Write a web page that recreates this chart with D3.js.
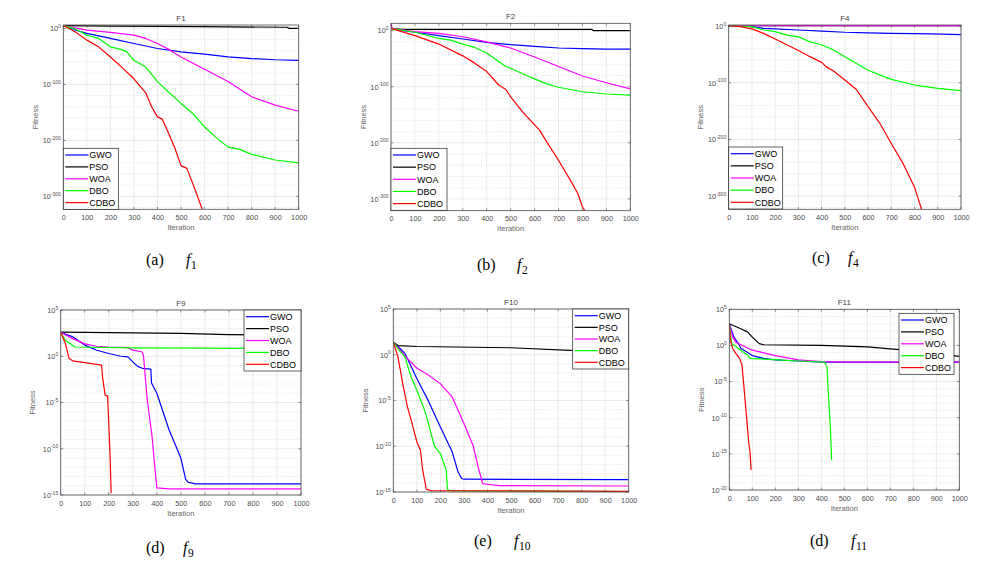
<!DOCTYPE html>
<html><head><meta charset="utf-8">
<script src="https://cdn.jsdelivr.net/npm/d3@7"></script>
<style>body{margin:0;background:#fff}svg{display:block}</style>
</head><body>
<svg id="c" width="986" height="575"></svg>
<script>
// ---------------- data ----------------
const seriesNames = ["GWO", "PSO", "WOA", "DBO", "CDBO"];
const seriesColors = ["#0000ff", "#000000", "#ff00ff", "#00ff00", "#ff0000"];
const xTicks = [0, 100, 200, 300, 400, 500, 600, 700, 800, 900, 1000];
const panelTitles = ["F1", "F2", "F4", "F9", "F10", "F11"];
const captionLetters = ["(a)", "(b)", "(c)", "(d)", "(e)", "(d)"];
const captionSubs = ["1", "2", "4", "9", "10", "11"];
const yTickExpsBig = [0, -100, -200, -300];
const yTickExpsF9 = [5, 0, -5, -10, -15];
const yTickExpsF11 = [5, 0, -5, -10, -15, -20];

// F1 : [iteration, fitness]
const f1GWO = [[0,1e5],[50,1e-3],[100,1e-9],[200,1e-18],[300,1e-27],[400,1e-36],[500,1e-42],[600,1e-46],[700,1e-51],[800,1e-54],[900,1e-56],[1000,1e-57]];
const f1PSO = [[0,1e5],[200,1e4],[600,1e3],[950,1e2],[960,1e0],[1000,1e0]];
const f1WOA = [[0,1e5],[100,1e-3],[200,1e-7],[300,1e-12],[350,1e-18],[400,1e-27],[450,1e-38],[500,1e-51],[600,1e-73],[700,1e-95],[800,1e-122],[900,1e-137],[1000,1e-148]];
const f1DBO = [[0,1e5],[50,1e-1],[100,1e-12],[150,1e-18],[200,1e-33],[250,1e-38],[270,1e-42],[300,1e-57],[350,1e-69],[400,1e-95],[450,1e-115],[500,1e-134],[550,1e-152],[600,1e-176],[650,1e-195],[700,1e-212],[750,1e-216],[800,1e-225],[900,1e-235],[1000,1e-240]];
const f1CDBO = [[0,1e5],[50,1e-6],[100,1e-21],[150,1e-33],[200,1e-51],[250,1e-70],[300,1e-90],[350,1e-115],[375,1e-140],[400,1e-158],[420,1e-162],[450,1e-190],[475,1e-215],[500,1e-245],[525,1e-250],[560,1e-288],[590,1e-323]];

// F2
const f2GWO = [[0,1e4],[50,1e0],[100,1e-3],[200,1e-9],[300,1e-15],[400,1e-21],[500,1e-25],[600,1e-28],[700,1e-31],[800,1e-32],[900,1e-33],[1000,1e-33]];
const f2PSO = [[0,1e4],[50,1e2],[840,1e2],[845,1e0],[1000,1e0]];
const f2WOA = [[0,1e13],[5,1e4],[50,1e1],[100,1e-2],[200,1e-5],[300,1e-11],[400,1e-20],[500,1e-31],[600,1e-47],[700,1e-64],[800,1e-81],[900,1e-93],[1000,1e-104]];
const f2DBO = [[0,1e4],[100,1e-3],[200,1e-14],[250,1e-17],[300,1e-24],[350,1e-30],[400,1e-40],[450,1e-55],[480,1e-64],[500,1e-67],[550,1e-77],[600,1e-86],[650,1e-95],[700,1e-101],[800,1e-109],[900,1e-113],[1000,1e-115]];
const f2CDBO = [[0,1e4],[100,1e-9],[200,1e-24],[300,1e-45],[350,1e-58],[400,1e-73],[450,1e-97],[480,1e-105],[500,1e-118],[550,1e-145],[600,1e-168],[620,1e-177],[650,1e-198],[700,1e-231],[750,1e-267],[780,1e-290],[800,1e-314],[810,1e-321]];

// F4
const f4GWO = [[0,3],[100,1e-1],[150,1e-4],[200,1e-5],[300,1e-7],[400,1e-9],[500,1e-11],[600,1e-12],[700,1e-13],[800,3e-14],[870,1e-14],[1000,1e-15]];
const f4PSO = [[0,5],[1000,5]];
const f4WOA = [[0,6],[1000,6]];
const f4DBO = [[0,3],[100,1e-1],[150,1e-7],[200,1e-10],[250,1e-16],[300,1e-19],[350,1e-28],[400,1e-33],[450,1e-42],[500,1e-54],[550,1e-66],[600,1e-78],[650,1e-86],[700,1e-94],[800,1e-104],[900,1e-110],[1000,1e-114]];
const f4CDBO = [[0,3],[50,1e-1],[100,1e-5],[150,1e-13],[200,1e-23],[250,1e-33],[300,1e-43],[350,1e-54],[400,1e-64],[420,1e-72],[450,1e-79],[500,1e-95],[550,1e-112],[600,1e-142],[650,1e-171],[700,1e-207],[750,1e-242],[800,1e-284],[830,1e-323]];

// F9
const f9GWO = [[0,4e2],[20,2.5e2],[50,1.3e2],[100,1.6e1],[150,4.5],[200,2],[250,1],[280,0.85],[300,0.25],[320,0.08],[340,0.05],[375,0.04],[378,1.3e-3],[400,1e-4],[450,1.3e-8],[500,1e-11],[520,5e-14],[530,2.5e-14],[560,1.6e-14],[1000,1.6e-14]];
const f9PSO = [[0,4e2],[500,3e2],[700,2.2e2],[1000,1.7e2]];
const f9WOA = [[0,4e2],[50,8e1],[100,2.2e1],[150,1.2e1],[200,1e1],[280,8.5],[300,4.5],[340,2.9],[345,0.85],[360,2e-5],[380,2.5e-9],[390,3e-12],[400,6e-15],[450,4.5e-15],[1000,4.5e-15]];
const f9DBO = [[0,4e2],[20,5e1],[60,1e1],[300,8],[1000,6.6]];
const f9CDBO = [[0,4e2],[20,2.2e1],[35,0.56],[50,0.32],[100,0.2],[170,0.11],[175,4e-3],[185,6e-5],[195,5e-5],[200,6e-8],[205,4e-11],[210,1.6e-15]];

// F10
const f10GWO = [[0,2.4e1],[30,4.5],[50,1.3],[100,2.5e-3],[150,8e-6],[200,1.3e-8],[250,2.5e-11],[275,1.6e-13],[290,3e-14],[300,2.5e-14],[1000,2.2e-14]];
const f10PSO = [[0,2.4e1],[20,1e1],[100,8],[500,5.8],[750,3],[1000,1.8]];
const f10WOA = [[0,2.4e1],[30,3],[50,0.7],[100,3.5e-2],[150,5.6e-3],[200,7e-4],[250,2.5e-5],[300,3e-8],[340,1e-10],[360,6e-13],[380,8e-15],[450,5e-15],[1000,4.5e-15]];
const f10DBO = [[0,2.4e1],[20,4.5],[50,0.56],[75,4e-3],[100,1.3e-4],[125,3e-6],[140,2.5e-7],[160,2.5e-9],[175,1e-10],[200,1.6e-11],[210,3e-12],[225,2.5e-13],[230,2e-15],[240,1.4e-15],[1000,1.1e-15]];
const f10CDBO = [[0,2.4e1],[20,0.56],[40,7e-4],[60,2e-6],[80,3e-8],[100,3e-10],[115,4e-11],[125,2.5e-13],[140,2e-15],[160,1.4e-15],[1000,1.2e-15]];

// F11
const f11GWO = [[0,1e3],[20,1.4e1],[40,1.8],[50,0.4],[100,4e-2],[150,1.6e-2],[200,1e-2],[300,7e-3],[400,5e-3],[1000,5e-3]];
const f11PSO = [[0,1e3],[50,2e2],[80,7e1],[100,1.4e1],[130,1.8],[150,1.25],[400,1],[600,0.63],[750,0.25],[1000,3e-2]];
const f11WOA = [[0,1e3],[15,1.4e1],[30,2.5],[100,0.22],[200,4e-2],[300,1e-2],[400,6e-3],[500,5e-3],[1000,5e-3]];
const f11DBO = [[0,1e3],[10,1.8],[50,0.22],[80,4.5e-2],[90,1.6e-2],[150,1.3e-2],[300,7e-3],[415,5e-3],[425,1e-3],[430,6e-7],[440,1.8e-12],[445,1.3e-16]];
const f11CDBO = [[0,1e3],[5,5],[15,0.35],[30,7e-2],[45,1.6e-2],[55,2e-3],[65,6e-7],[75,1.3e-10],[85,2.5e-14],[90,2e-15],[95,6e-18]];

// ---------------- layout ----------------
const panels = [
  {series:[f1GWO,f1PSO,f1WOA,f1DBO,f1CDBO], l:63.3, r:298.7, t:25, b:209.3, ymin:1e-323, ymax:1e6, ticks:yTickExpsBig, minorStep:20,
   leg:{x:63.3,y:148.3,w:55,h:61}, cap:{x:146,y:265,fx:186}},
  {series:[f2GWO,f2PSO,f2WOA,f2DBO,f2CDBO], l:391, r:630.3, t:23.3, b:210.7, ymin:1e-321, ymax:1e13, ticks:yTickExpsBig, minorStep:20,
   leg:{x:391,y:148.3,w:56,h:62}, cap:{x:477,y:270,fx:517}},
  {series:[f4GWO,f4PSO,f4WOA,f4DBO,f4CDBO], l:728.7, r:961, t:25, b:209.3, ymin:1e-323, ymax:63, ticks:yTickExpsBig, minorStep:20,
   leg:{x:728.7,y:147,w:54,h:62}, cap:{x:812,y:263,fx:848}},
  {series:[f9GWO,f9PSO,f9WOA,f9DBO,f9CDBO], l:60.7, r:301, t:310, b:495, ymin:1e-15, ymax:1e5, ticks:yTickExpsF9, minorStep:1,
   leg:{x:244,y:310,w:57,h:61}, cap:{x:146,y:553,fx:183}},
  {series:[f10GWO,f10PSO,f10WOA,f10DBO,f10CDBO], l:393.3, r:628.7, t:309, b:492, ymin:1e-15, ymax:1e5, ticks:yTickExpsF9, minorStep:1,
   leg:{x:572.7,y:309,w:56,h:60}, cap:{x:474,y:546,fx:514}},
  {series:[f11GWO,f11PSO,f11WOA,f11DBO,f11CDBO], l:729.3, r:959.3, t:309.3, b:490, ymin:1e-20, ymax:1e5, ticks:yTickExpsF11, minorStep:1,
   leg:{x:899,y:313.3,w:55,h:61}, cap:{x:810,y:546,fx:851}}
];

const svg = d3.select("#c");
const FONT = "Liberation Sans, Arial, sans-serif";
const AX = "#4d4d4d";

panels.forEach((p, i) => {
  const g = svg.append("g");
  const x = d3.scaleLinear().domain([0, 1000]).range([p.l, p.r]);
  const y = d3.scaleLog().domain([p.ymin, p.ymax]).range([p.b, p.t]);
  const e0 = Math.ceil(Math.log10(p.ymin)), e1 = Math.floor(Math.log10(p.ymax));
  const major = new Set(p.ticks);

  g.append("rect").attr("x", p.l).attr("y", p.t).attr("width", p.r - p.l).attr("height", p.b - p.t).attr("fill", "#fff");

  const minors = [];
  for (let e = e1; e >= e0; e--) if (e % p.minorStep === 0 && !major.has(e)) minors.push(e);
  g.selectAll(".mg").data(minors).enter().append("line")
    .attr("x1", p.l).attr("x2", p.r)
    .attr("y1", d => y(Math.pow(10, d))).attr("y2", d => y(Math.pow(10, d)))
    .attr("stroke", "#d4d4d4").attr("stroke-width", 0.6).attr("stroke-dasharray", "1,1.5");
  g.selectAll(".hg").data(p.ticks).enter().append("line")
    .attr("x1", p.l).attr("x2", p.r)
    .attr("y1", d => y(Math.pow(10, d))).attr("y2", d => y(Math.pow(10, d)))
    .attr("stroke", "#e3e3e3").attr("stroke-width", 0.7);
  g.selectAll(".vg").data(xTicks).enter().append("line")
    .attr("x1", d => x(d)).attr("x2", d => x(d))
    .attr("y1", p.t).attr("y2", p.b)
    .attr("stroke", "#e3e3e3").attr("stroke-width", 0.7);

  const cid = "clip" + i;
  svg.append("clipPath").attr("id", cid).append("rect")
    .attr("x", p.l).attr("y", p.t).attr("width", p.r - p.l).attr("height", p.b - p.t);

  const line = d3.line().x(d => x(d[0])).y(d => y(Math.max(d[1], p.ymin)));
  const lg = g.append("g").attr("clip-path", `url(#${cid})`);
  p.series.forEach((s, k) => {
    lg.append("path").attr("d", line(s)).attr("fill", "none")
      .attr("stroke", seriesColors[k]).attr("stroke-width", 1.2).attr("stroke-linejoin", "round");
  });

  g.append("rect").attr("x", p.l).attr("y", p.t).attr("width", p.r - p.l).attr("height", p.b - p.t)
    .attr("fill", "none").attr("stroke", AX).attr("stroke-width", 0.8);

  const xa = d3.axisBottom(x).tickValues(xTicks).tickSize(0).tickPadding(0).tickFormat(d3.format("d"));
  const xg = g.append("g").attr("transform", `translate(0,${p.b})`).call(xa);
  xg.select(".domain").remove();
  xg.selectAll("text").attr("dy", null).attr("y", 10.5).attr("font-family", FONT).attr("font-size", 7.3).attr("fill", AX);
  g.selectAll(".xt").data(xTicks).enter().append("line")
    .attr("x1", d => x(d)).attr("x2", d => x(d)).attr("y1", p.b).attr("y2", p.b - 2.5)
    .attr("stroke", AX).attr("stroke-width", 0.6);
  g.selectAll(".xtt").data(xTicks).enter().append("line")
    .attr("x1", d => x(d)).attr("x2", d => x(d)).attr("y1", p.t).attr("y2", p.t + 2.5)
    .attr("stroke", AX).attr("stroke-width", 0.6);

  const ya = d3.axisLeft(y).tickValues(p.ticks.map(e => Math.pow(10, e))).tickSize(0).tickFormat("");
  const yg = g.append("g").attr("transform", `translate(${p.l},0)`).call(ya);
  yg.select(".domain").remove();
  g.selectAll(".yt").data(p.ticks).enter().append("line")
    .attr("x1", p.l).attr("x2", p.l + 2.5)
    .attr("y1", d => y(Math.pow(10, d))).attr("y2", d => y(Math.pow(10, d)))
    .attr("stroke", AX).attr("stroke-width", 0.6);
  g.selectAll(".ytr").data(p.ticks).enter().append("line")
    .attr("x1", p.r).attr("x2", p.r - 2.5)
    .attr("y1", d => y(Math.pow(10, d))).attr("y2", d => y(Math.pow(10, d)))
    .attr("stroke", AX).attr("stroke-width", 0.6);
  p.ticks.forEach(e => {
    const ty = y(Math.pow(10, e));
    const t = g.append("text").attr("x", p.l - 2.5).attr("y", ty + 2.8)
      .attr("text-anchor", "end").attr("font-family", FONT).attr("fill", AX);
    t.append("tspan").attr("font-size", 7.3).text("10");
    t.append("tspan").attr("font-size", 5).attr("dy", -3.3).text(String(e));
  });

  g.append("text").attr("x", (p.l + p.r) / 2).attr("y", p.t - 4).attr("text-anchor", "middle")
    .attr("font-family", FONT).attr("font-size", 8).attr("fill", "#444").text(panelTitles[i]);
  g.append("text").attr("x", (p.l + p.r) / 2).attr("y", p.b + 20.5).attr("text-anchor", "middle")
    .attr("font-family", FONT).attr("font-size", 7.5).attr("fill", "#666").text("Iteration");
  g.append("text").attr("transform", `translate(${p.l - 25.5},${(p.t + p.b) / 2}) rotate(-90)`)
    .attr("text-anchor", "middle").attr("font-family", FONT).attr("font-size", 7.5).attr("fill", "#666").text("Fitness");

  const L = p.leg;
  const lgd = g.append("g");
  lgd.append("rect").attr("x", L.x).attr("y", L.y).attr("width", L.w).attr("height", L.h)
    .attr("fill", "#fff").attr("stroke", "#222").attr("stroke-width", 0.7);
  const step = (L.h - 13.4) / 4;
  seriesNames.forEach((nm, k) => {
    const ry = L.y + 6.7 + k * step;
    lgd.append("line").attr("x1", L.x + 2).attr("x2", L.x + 25).attr("y1", ry).attr("y2", ry)
      .attr("stroke", seriesColors[k]).attr("stroke-width", 1.2);
    lgd.append("text").attr("x", L.x + 26).attr("y", ry + 3.2).attr("font-family", FONT)
      .attr("font-size", 9).attr("fill", "#000").text(nm);
  });

  const C = p.cap;
  svg.append("text").attr("x", C.x).attr("y", C.y).attr("font-family", "Liberation Serif, Times New Roman, serif")
    .attr("font-size", 16).attr("fill", "#000").text(captionLetters[i]);
  const ft = svg.append("text").attr("x", C.fx).attr("y", C.y).attr("font-family", "Liberation Serif, Times New Roman, serif")
    .attr("font-size", 16).attr("fill", "#000");
  ft.append("tspan").attr("font-style", "italic").text("f");
  ft.append("tspan").attr("font-size", 11.5).attr("dy", 4).attr("dx", 0.5).text(captionSubs[i]);
});

svg.append("text").attr("x", 351).attr("y", 518).attr("font-family", FONT).attr("font-size", 6).attr("fill", "#999").text(".");
</script>
</body></html>
